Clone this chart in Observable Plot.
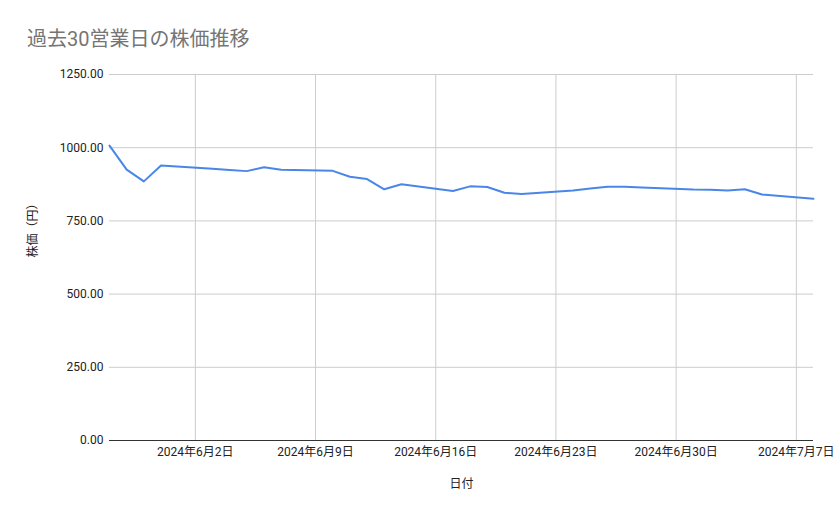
<!DOCTYPE html>
<html>
<head>
<meta charset="utf-8">
<script src="https://cdn.jsdelivr.net/npm/d3@7"></script>
<script src="https://cdn.jsdelivr.net/npm/@observablehq/plot@0.6"></script>
<style>
  html, body { margin: 0; padding: 0; background: #fff; }
  #title { height: 60px; box-sizing: border-box; padding: 27px 0 0 27px; font-family: Roboto, "Noto Sans CJK JP", sans-serif; font-size: 20px; line-height: 24px; color: #757575; }
</style>
</head>
<body>
<div id="title">過去30営業日の株価推移</div>
<div id="chart"></div>
<script>
const dates = [
  "2024-05-28","2024-05-29","2024-05-30","2024-05-31",
  "2024-06-03","2024-06-04","2024-06-05","2024-06-06","2024-06-07",
  "2024-06-10","2024-06-11","2024-06-12","2024-06-13","2024-06-14",
  "2024-06-17","2024-06-18","2024-06-19","2024-06-20","2024-06-21",
  "2024-06-24","2024-06-25","2024-06-26","2024-06-27","2024-06-28",
  "2024-07-01","2024-07-02","2024-07-03","2024-07-04","2024-07-05",
  "2024-07-08"
];
const prices = [
  1007, 925, 885, 939,
  928, 924, 920, 933, 925,
  921, 901, 893, 858, 875,
  852, 868, 866, 846, 842,
  854, 861, 867, 867, 864,
  857, 856, 854, 858, 840,
  826
];
const xTickDates = ["2024-06-02","2024-06-09","2024-06-16","2024-06-23","2024-06-30","2024-07-07"];
const yTicks = [0, 250, 500, 750, 1000, 1250];
const xDomain = ["2024-05-28", "2024-07-08"];
const title = "過去30営業日の株価推移";
const xLabel = "日付";
const yLabel = "株価（円）";

const parse = s => new Date(s + "T00:00:00Z");
const data = dates.map((d, i) => ({date: parse(d), price: prices[i]}));
const xTicks = xTickDates.map(parse);
const fmtDate = d => `${d.getUTCFullYear()}年${d.getUTCMonth() + 1}月${d.getUTCDate()}日`;
const fmtNum = v => v.toFixed(2);

const chart = Plot.plot({
  width: 839,
  height: 459,
  marginTop: 14,
  marginLeft: 109,
  marginRight: 26,
  marginBottom: 79,
  style: {fontFamily: 'Roboto, "Noto Sans CJK JP", sans-serif', fontSize: "12px", color: "#222", background: "#fff"},
  x: {type: "utc", domain: xDomain.map(parse)},
  y: {domain: [0, 1250]},
  marks: [
    Plot.gridX(xTicks, {stroke: "#cccccc", strokeOpacity: 1}),
    Plot.gridY(yTicks, {stroke: "#cccccc", strokeOpacity: 1}),
    Plot.axisX(xTicks, {tickFormat: fmtDate, tickSize: 0, tickPadding: 7, label: null}),
    Plot.axisY(yTicks, {tickFormat: fmtNum, tickSize: 0, tickPadding: 6, label: null}),
    Plot.ruleY([0], {stroke: "#333", strokeWidth: 1}),
    Plot.lineY(data, {x: "date", y: "price", stroke: "#4a86e8", strokeWidth: 2}),
    Plot.text([xLabel], {frameAnchor: "bottom", dy: 47, fontSize: 12, fill: "#222"}),
    Plot.text([yLabel], {frameAnchor: "left", dx: -76, rotate: -90, fontSize: 12, fill: "#222"})
  ]
});
document.getElementById("chart").appendChild(chart);
</script>
</body>
</html>
